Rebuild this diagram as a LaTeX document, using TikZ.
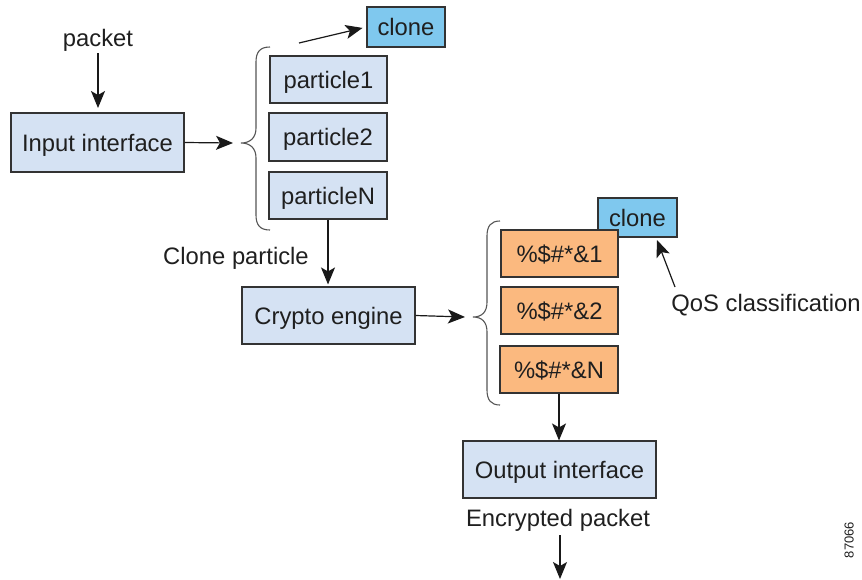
\documentclass[tikz,border=0pt]{standalone}
\usepackage{fontspec}
\setmainfont{Liberation Sans}
\usetikzlibrary{arrows.meta}
\definecolor{boxblue}{HTML}{D5E2F3}
\definecolor{boxorange}{HTML}{FBB97F}
\definecolor{clonecol}{HTML}{7FC8EE}
\definecolor{edge}{HTML}{333333}
\definecolor{bracecol}{HTML}{555555}
\begin{document}
\begin{tikzpicture}[x=1pt,y=-1pt,
  every node/.style={font=\fontsize{23.8}{27}\selectfont, text=black!88, inner sep=0pt, text height=17pt, text depth=0pt},
  box/.style={draw=edge, line width=1.1pt, fill=boxblue},
  obox/.style={draw=edge, line width=1.1pt, fill=boxorange},
  cbox/.style={draw=edge, line width=1.1pt, fill=clonecol},
  arr/.style={draw=black!90, line width=1.2pt, -{Stealth[length=17pt,width=14pt,inset=4pt]}},
  brc/.style={draw=bracecol, line width=1.1pt}]
\useasboundingbox (0,0) rectangle (862,579);
% top section
\node (packet) at (98,38) {packet};
\node[box, minimum width=173pt, minimum height=59pt] (inp) at (97.5,142.5) {Input interface};
\node[cbox, minimum width=78pt, minimum height=40pt] (clone1) at (406,27) {clone};
\node[box, minimum width=117pt, minimum height=47pt] (p1) at (328.5,79.5) {particle1};
\node[box, minimum width=118pt, minimum height=48pt] (p2) at (328,137) {particle2};
\node[box, minimum width=118pt, minimum height=47pt] (pN) at (328,195.5) {particleN};
\coordinate (b1tip) at (233,143);
\coordinate (c1s) at (299,43);
\draw[arr] (packet.south |- 0,53) -- (packet.south |- 0,108);
\draw[arr] (inp.east) -- (b1tip);
\draw[arr, shorten >=4pt] (c1s) -- (clone1.west);
\draw[brc] (270,47) .. controls (260,47) and (256,52) .. (256,62) -- (256,128)
  .. controls (256,138) and (250,143) .. (241,143)
  .. controls (250,143) and (256,148) .. (256,158) -- (256,215)
  .. controls (256,225) and (260,230) .. (270,230);
% middle
\node (clonep) at (236,256) {Clone particle};
\node[box, minimum width=173pt, minimum height=57pt] (crypto) at (328.5,315.5) {Crypto engine};
\draw[arr, shorten >=2pt] (pN.south) -- (pN.south |- crypto.north);
\coordinate (b2tip) at (465,317);
\draw[arr] (crypto.east) -- (b2tip);
\draw[brc] (500,221) .. controls (491,221) and (487,226) .. (487,236) -- (487,302)
  .. controls (487,312) and (482,317) .. (473,317)
  .. controls (482,317) and (487,322) .. (487,332) -- (487,390)
  .. controls (487,400) and (491,405) .. (500,405);
\node[cbox, minimum width=79pt, minimum height=39pt] (clone2) at (637.5,217.5) {clone};
\node[obox, minimum width=117pt, minimum height=47pt] (o1) at (559.5,253.5) {\%\$\#*\&1};
\node[obox, minimum width=117pt, minimum height=47pt] (o2) at (559.5,310.5) {\%\$\#*\&2};
\node[obox, minimum width=118pt, minimum height=47pt] (oN) at (559,369.5) {\%\$\#*\&N};
\node (qos) at (766,303) {QoS classification};
\coordinate (qs) at (675,287);
\draw[arr] (qs) -- (657,240);
% bottom
\node[box, minimum width=193pt, minimum height=57pt] (out) at (559.5,469.5) {Output interface};
\draw[arr] (oN.south) -- (oN.south |- out.north);
\node (enc) at (558,518) {Encrypted packet};
\coordinate (es) at (560,535);
\coordinate (ee) at (560,579);
\draw[arr] (es) -- (ee);
\node[rotate=90, font=\fontsize{13}{15}\selectfont, text height=9pt] (num) at (849,540) {87066};
\end{tikzpicture}
\end{document}
